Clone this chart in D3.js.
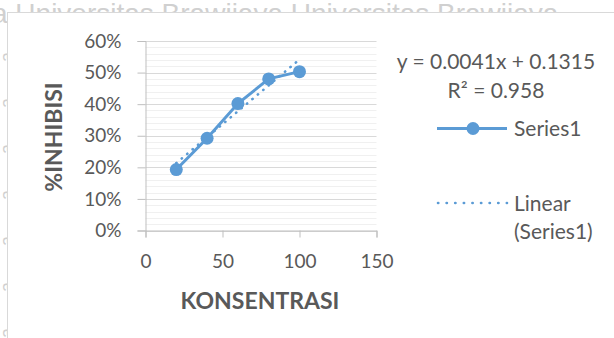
<!DOCTYPE html>
<html>
<head>
<meta charset="utf-8">
<script src="https://cdn.jsdelivr.net/npm/d3@7"></script>
<style>
  body { margin: 0; background: #fff; }
  svg { display: block; font-family: Lato, "Open Sans", sans-serif; }
</style>
</head>
<body>
<div id="chart"></div>
<script>
(function() {
"use strict";

// data
var konsentrasi = [20, 40, 60, 80, 100];
var inhibisi = [0.193, 0.292, 0.402, 0.480, 0.503];
var trendCoef = [0.0041, 0.1315];   // slope, intercept
var xTicks = [0, 50, 100, 150];
var yTicks = [0, 0.1, 0.2, 0.3, 0.4, 0.5, 0.6];
var eqLabel = "y = 0.0041x + 0.1315";
var r2Label = "R² = 0.958";
var legendNames = ["Series1", "Linear", "(Series1)"];

var W = 614, H = 338;
var blue = "#5b9bd5", txt = "#595959";

var svg = d3.select("#chart").append("svg")
    .attr("width", W).attr("height", H);

// faint page watermark behind the chart frame
var wm = svg.append("g").attr("fill", "#d0d0d0").attr("font-family", "Liberation Sans, Arial, sans-serif");
wm.append("text").attr("x", -8).attr("y", 23).attr("font-size", 28)
    .text("a   Universitas Brawijaya    Universitas Brawijaya");
for (var k = 0; k < 7; k++) {
    wm.append("text")
        .attr("transform", "translate(13," + (62 + k * 46) + ") rotate(-90)")
        .attr("font-size", 18).text("a");
}

// chart frame
svg.append("rect").attr("x", 7.5).attr("y", 12.5)
    .attr("width", W).attr("height", H)
    .attr("fill", "#fff").attr("stroke", "#d9d9d9");

var x = d3.scaleLinear().domain([0, 150]).range([145.5, 376.5]);
var y = d3.scaleLinear().domain([0, 0.6]).range([230.5, 41]);

// minor gridlines every 2 %
var minor = d3.range(0, 0.6001, 0.02).filter(function(v) {
    return Math.abs(v * 10 - Math.round(v * 10)) > 1e-6;
});
svg.append("g").selectAll("line").data(minor).join("line")
    .attr("x1", x(0)).attr("x2", x(150))
    .attr("y1", function(d) { return Math.round(y(d)) + 0.5; })
    .attr("y2", function(d) { return Math.round(y(d)) + 0.5; })
    .attr("stroke", "#f0f0f0");

// major gridlines
svg.append("g").selectAll("line").data(yTicks).join("line")
    .attr("x1", x(0)).attr("x2", x(150))
    .attr("y1", function(d) { return Math.round(y(d)) + 0.5; })
    .attr("y2", function(d) { return Math.round(y(d)) + 0.5; })
    .attr("stroke", "#d9d9d9");

// axes
var yAxis = svg.append("g").attr("transform", "translate(" + x(0) + ",0)")
    .call(d3.axisLeft(y).tickValues(yTicks).tickFormat(d3.format(".0%"))
        .tickSize(8).tickPadding(16));
var xAxis = svg.append("g").attr("transform", "translate(0," + y(0) + ")")
    .call(d3.axisBottom(x).tickValues(xTicks).tickSize(7).tickPadding(17));
[yAxis, xAxis].forEach(function(a) {
    a.select(".domain").attr("stroke", "#bfbfbf");
    a.selectAll(".tick line").attr("stroke", "#bfbfbf");
    a.selectAll(".tick text").attr("fill", txt)
        .attr("font-size", 19).attr("font-family", "Lato, sans-serif");
});

// axis titles
svg.append("text").attr("x", 260).attr("y", 309)
    .attr("text-anchor", "middle").attr("font-weight", "bold")
    .attr("font-size", 23).attr("fill", txt).text("KONSENTRASI");
svg.append("text").attr("transform", "translate(62,137) rotate(-90)")
    .attr("text-anchor", "middle").attr("font-weight", "bold")
    .attr("font-size", 23).attr("fill", txt).text("%INHIBISI");

// series
var pts = konsentrasi.map(function(c, i) { return [c, inhibisi[i]]; });
var line = d3.line().x(function(d) { return x(d[0]); }).y(function(d) { return y(d[1]); });

svg.append("path").datum(pts).attr("d", line)
    .attr("fill", "none").attr("stroke", blue).attr("stroke-width", 3);

// linear trend
var ext = d3.extent(konsentrasi);
var trend = ext.map(function(c) { return [c, trendCoef[0] * c + trendCoef[1]]; });
svg.append("path").datum(trend).attr("d", line)
    .attr("fill", "none").attr("stroke", blue).attr("stroke-width", 2.6)
    .attr("stroke-linecap", "round").attr("stroke-dasharray", "0.3 6.8");

svg.append("g").selectAll("circle").data(pts).join("circle")
    .attr("cx", function(d) { return x(d[0]); })
    .attr("cy", function(d) { return y(d[1]); })
    .attr("r", 6.5).attr("fill", blue);

// equation label
svg.append("text").attr("x", 496).attr("y", 69).attr("text-anchor", "middle")
    .attr("font-size", 21).attr("fill", txt).text(eqLabel);
svg.append("text").attr("x", 496).attr("y", 97.5).attr("text-anchor", "middle")
    .attr("font-size", 21).attr("fill", txt).text(r2Label);

// legend
var lg = svg.append("g").attr("font-size", 21).attr("fill", txt);
lg.append("line").attr("x1", 437).attr("x2", 507).attr("y1", 128.5).attr("y2", 128.5)
    .attr("stroke", blue).attr("stroke-width", 3);
lg.append("circle").attr("cx", 473).attr("cy", 128.5).attr("r", 6.5).attr("fill", blue);
lg.append("text").attr("x", 514).attr("y", 136).text(legendNames[0]);
lg.append("line").attr("x1", 438).attr("x2", 507).attr("y1", 203).attr("y2", 203)
    .attr("stroke", blue).attr("stroke-width", 2.6)
    .attr("stroke-linecap", "round").attr("stroke-dasharray", "0.3 8.3");
lg.append("text").attr("x", 514).attr("y", 210.5).text(legendNames[1]);
lg.append("text").attr("x", 514).attr("y", 239).text(legendNames[2]);

})();
</script>
</body>
</html>
